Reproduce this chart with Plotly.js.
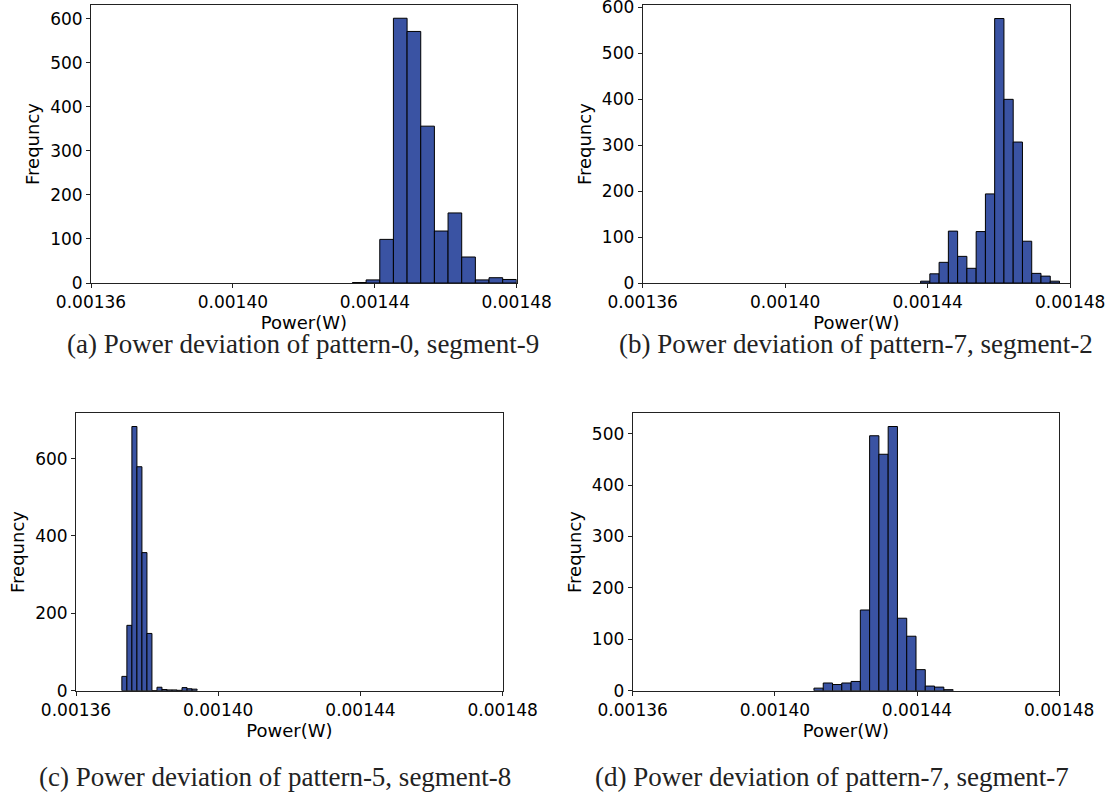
<!DOCTYPE html>
<html>
<head>
<meta charset="utf-8">
<script src="https://cdn.plot.ly/plotly-3.0.1.min.js"></script>
<style>
  html, body { margin: 0; padding: 0; background: #ffffff; }
  #chart { width: 1112px; height: 797px; }
</style>
</head>
<body>
<div id="chart"></div>
<script>
// ---- Data (histogram bins: start, width, counts) ----
const xTickValues = [0.00136, 0.00140, 0.00144, 0.00148];
const xTickLabels = ["0.00136", "0.00140", "0.00144", "0.00148"];

// (a) pattern-0, segment-9
const binStartA = 0.0014337;
const binWidthA = 0.00000385;
const countsA = [1, 7, 99, 601, 571, 356, 118, 159, 59, 7, 12, 8];

// (b) pattern-7, segment-2
const binStartB = 0.001438;
const binWidthB = 0.0000026;
const countsB = [4, 20, 45, 113, 58, 32, 112, 194, 576, 400, 307, 91, 21, 15, 4];

// (c) pattern-5, segment-8
const binStartC = 0.0013729;
const binWidthC = 0.00000141;
const countsC = [37, 169, 683, 579, 357, 148, 0, 9, 3, 2, 2, 1, 8, 5, 4];

// (d) pattern-7, segment-7
const binStartD = 0.001411;
const binWidthD = 0.00000261;
const countsD = [5, 15, 12, 15, 18, 157, 496, 460, 514, 141, 106, 41, 9, 7, 2];

const captions = [
  "(a) Power deviation of pattern-0, segment-9",
  "(b) Power deviation of pattern-7, segment-2",
  "(c) Power deviation of pattern-5, segment-8",
  "(d) Power deviation of pattern-7, segment-7"
];
const xTitle = "Power(W)";
const yTitle = "Frequncy";

// ---- Build traces ----
const W = 1112, H = 797;
const barFill = "#3A53A3";

function binCenters(start, width, counts) {
  return counts.map((_, i) => start + (i + 0.5) * width);
}
function histTrace(start, width, counts, xa, ya) {
  return {
    type: "bar",
    x: binCenters(start, width, counts),
    y: counts,
    width: counts.map(() => width),
    xaxis: xa, yaxis: ya,
    marker: { color: barFill, line: { color: "#000000", width: 1 } },
    hoverinfo: "x+y"
  };
}

const traces = [
  histTrace(binStartA, binWidthA, countsA, "x", "y"),
  histTrace(binStartB, binWidthB, countsB, "x2", "y2"),
  histTrace(binStartC, binWidthC, countsC, "x3", "y3"),
  histTrace(binStartD, binWidthD, countsD, "x4", "y4")
];

// ---- Layout ----
const tickFont = () => ({ family: "DejaVu Sans, sans-serif", size: 17, color: "#000000" });
const titleFont = () => ({ family: "DejaVu Sans, sans-serif", size: 18, color: "#000000" });
const px = v => v / W;
const py = v => 1 - v / H;

function xAxis(left, right, anchor) {
  return {
    domain: [px(left), px(right)], anchor: anchor,
    range: [0.00136, 0.00148],
    tickmode: "array", tickvals: xTickValues, ticktext: xTickLabels,
    ticks: "outside", ticklen: 4, tickwidth: 1, tickcolor: "#222",
    showline: true, linecolor: "#222", linewidth: 1, mirror: true,
    showgrid: false, zeroline: false,
    tickfont: tickFont(), ticklabeloverflow: "allow",
    title: { text: xTitle, font: titleFont(), standoff: 2 }
  };
}
function yAxis(top, bottom, anchor, ymax, dtick) {
  return {
    domain: [py(bottom), py(top)], anchor: anchor,
    range: [0, ymax], dtick: dtick, tick0: 0,
    ticks: "outside", ticklen: 4, tickwidth: 1, tickcolor: "#222",
    showline: true, linecolor: "#222", linewidth: 1, mirror: true,
    showgrid: false, zeroline: false,
    tickfont: tickFont(), ticklabeloverflow: "allow",
    title: { text: yTitle, font: titleFont(), standoff: 5 }
  };
}

const captionFont = () => ({ family: "Liberation Serif, serif", size: 27, color: "#222222" });
function caption(text, cx, cy) {
  return { text: text, xref: "paper", yref: "paper", x: px(cx), y: py(cy),
           xanchor: "center", yanchor: "middle", showarrow: false, font: captionFont() };
}

const layout = {
  width: W, height: H,
  margin: { l: 0, r: 0, t: 0, b: 0 },
  paper_bgcolor: "#ffffff", plot_bgcolor: "#ffffff",
  showlegend: false, bargap: 0,
  xaxis: xAxis(91, 516.7, "y"),
  yaxis: yAxis(5, 283, "x", Math.max(...countsA) * 1.05, 100),
  xaxis2: xAxis(642.7, 1070.2, "y2"),
  yaxis2: yAxis(5.3, 283, "x2", Math.max(...countsB) * 1.05, 100),
  xaxis3: xAxis(76, 502.7, "y3"),
  yaxis3: yAxis(413.3, 690.7, "x3", Math.max(...countsC) * 1.05, 200),
  xaxis4: xAxis(632.7, 1059.2, "y4"),
  yaxis4: yAxis(413.3, 690.7, "x4", Math.max(...countsD) * 1.05, 100),
  annotations: [
    caption(captions[0], 303, 344),
    caption(captions[1], 856, 344),
    caption(captions[2], 275, 777),
    caption(captions[3], 832, 777)
  ]
};

Plotly.newPlot("chart", traces, layout, { displayModeBar: false, staticPlot: true });
</script>
</body>
</html>
